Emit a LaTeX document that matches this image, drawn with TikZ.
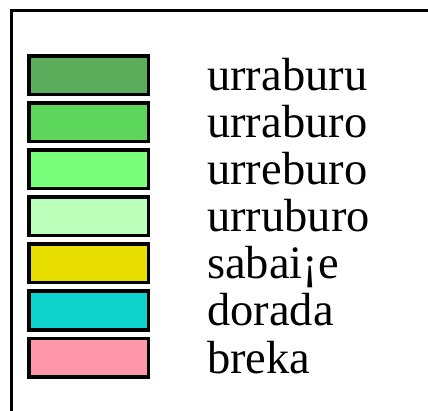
\documentclass[tikz,border=0pt]{standalone}
\usepackage{fontspec}
\setmainfont{Liberation Serif}
\definecolor{uruDark}{RGB}{91,173,91}
\definecolor{uroMid}{RGB}{91,214,91}
\definecolor{ebuLight}{RGB}{122,255,122}
\definecolor{ubuPale}{RGB}{187,255,187}
\definecolor{sabYellow}{RGB}{232,222,0}
\definecolor{dorCyan}{RGB}{13,211,204}
\definecolor{brePink}{RGB}{255,150,170}

\begin{document}
\begin{tikzpicture}[x=1pt, y=-1pt,
		swatch/.style={draw=black, line width=3.5pt, inner sep=0pt, minimum width=119.5pt, minimum height=38.5pt},
		entry/.style={anchor=base west, inner sep=0pt, font=\fontsize{46.5}{47}\selectfont}]
				\useasboundingbox (0,0) rectangle (428,411);
				\begin{scope}
					\clip (0,0) rectangle (428,411);
					\draw[line width=3pt] (11,420) -- (11,11) -- (440,11); % frame
				\end{scope}

				\node[swatch, fill=uruDark] (sw1) at (88.5,75.5) {};
				\node[entry] (lb1) at (207,91) {urraburu};

				\node[swatch, fill=uroMid] (sw2) at (88.5,122.5) {};
				\node[entry] (lb2) at (207,138) {urraburo};

				\node[swatch, fill=ebuLight] (sw3) at (88.5,169.5) {};
				\node[entry] (lb3) at (207,185) {urreburo};

				\node[swatch, fill=ubuPale] (sw4) at (88.5,216.5) {};
				\node[entry] (lb4) at (207,232) {urruburo};

				\node[swatch, fill=sabYellow] (sw5) at (88.5,263.5) {};
				\node[entry] (lb5) at (207,279) {sabai¡e};

				\node[swatch, fill=dorCyan] (sw6) at (88.5,310.5) {};
				\node[entry] (lb6) at (207,326) {dorada};

				\node[swatch, fill=brePink] (sw7) at (88.5,357.5) {};
				\node[entry] (lb7) at (207,373) {breka};
\end{tikzpicture}
\end{document}
